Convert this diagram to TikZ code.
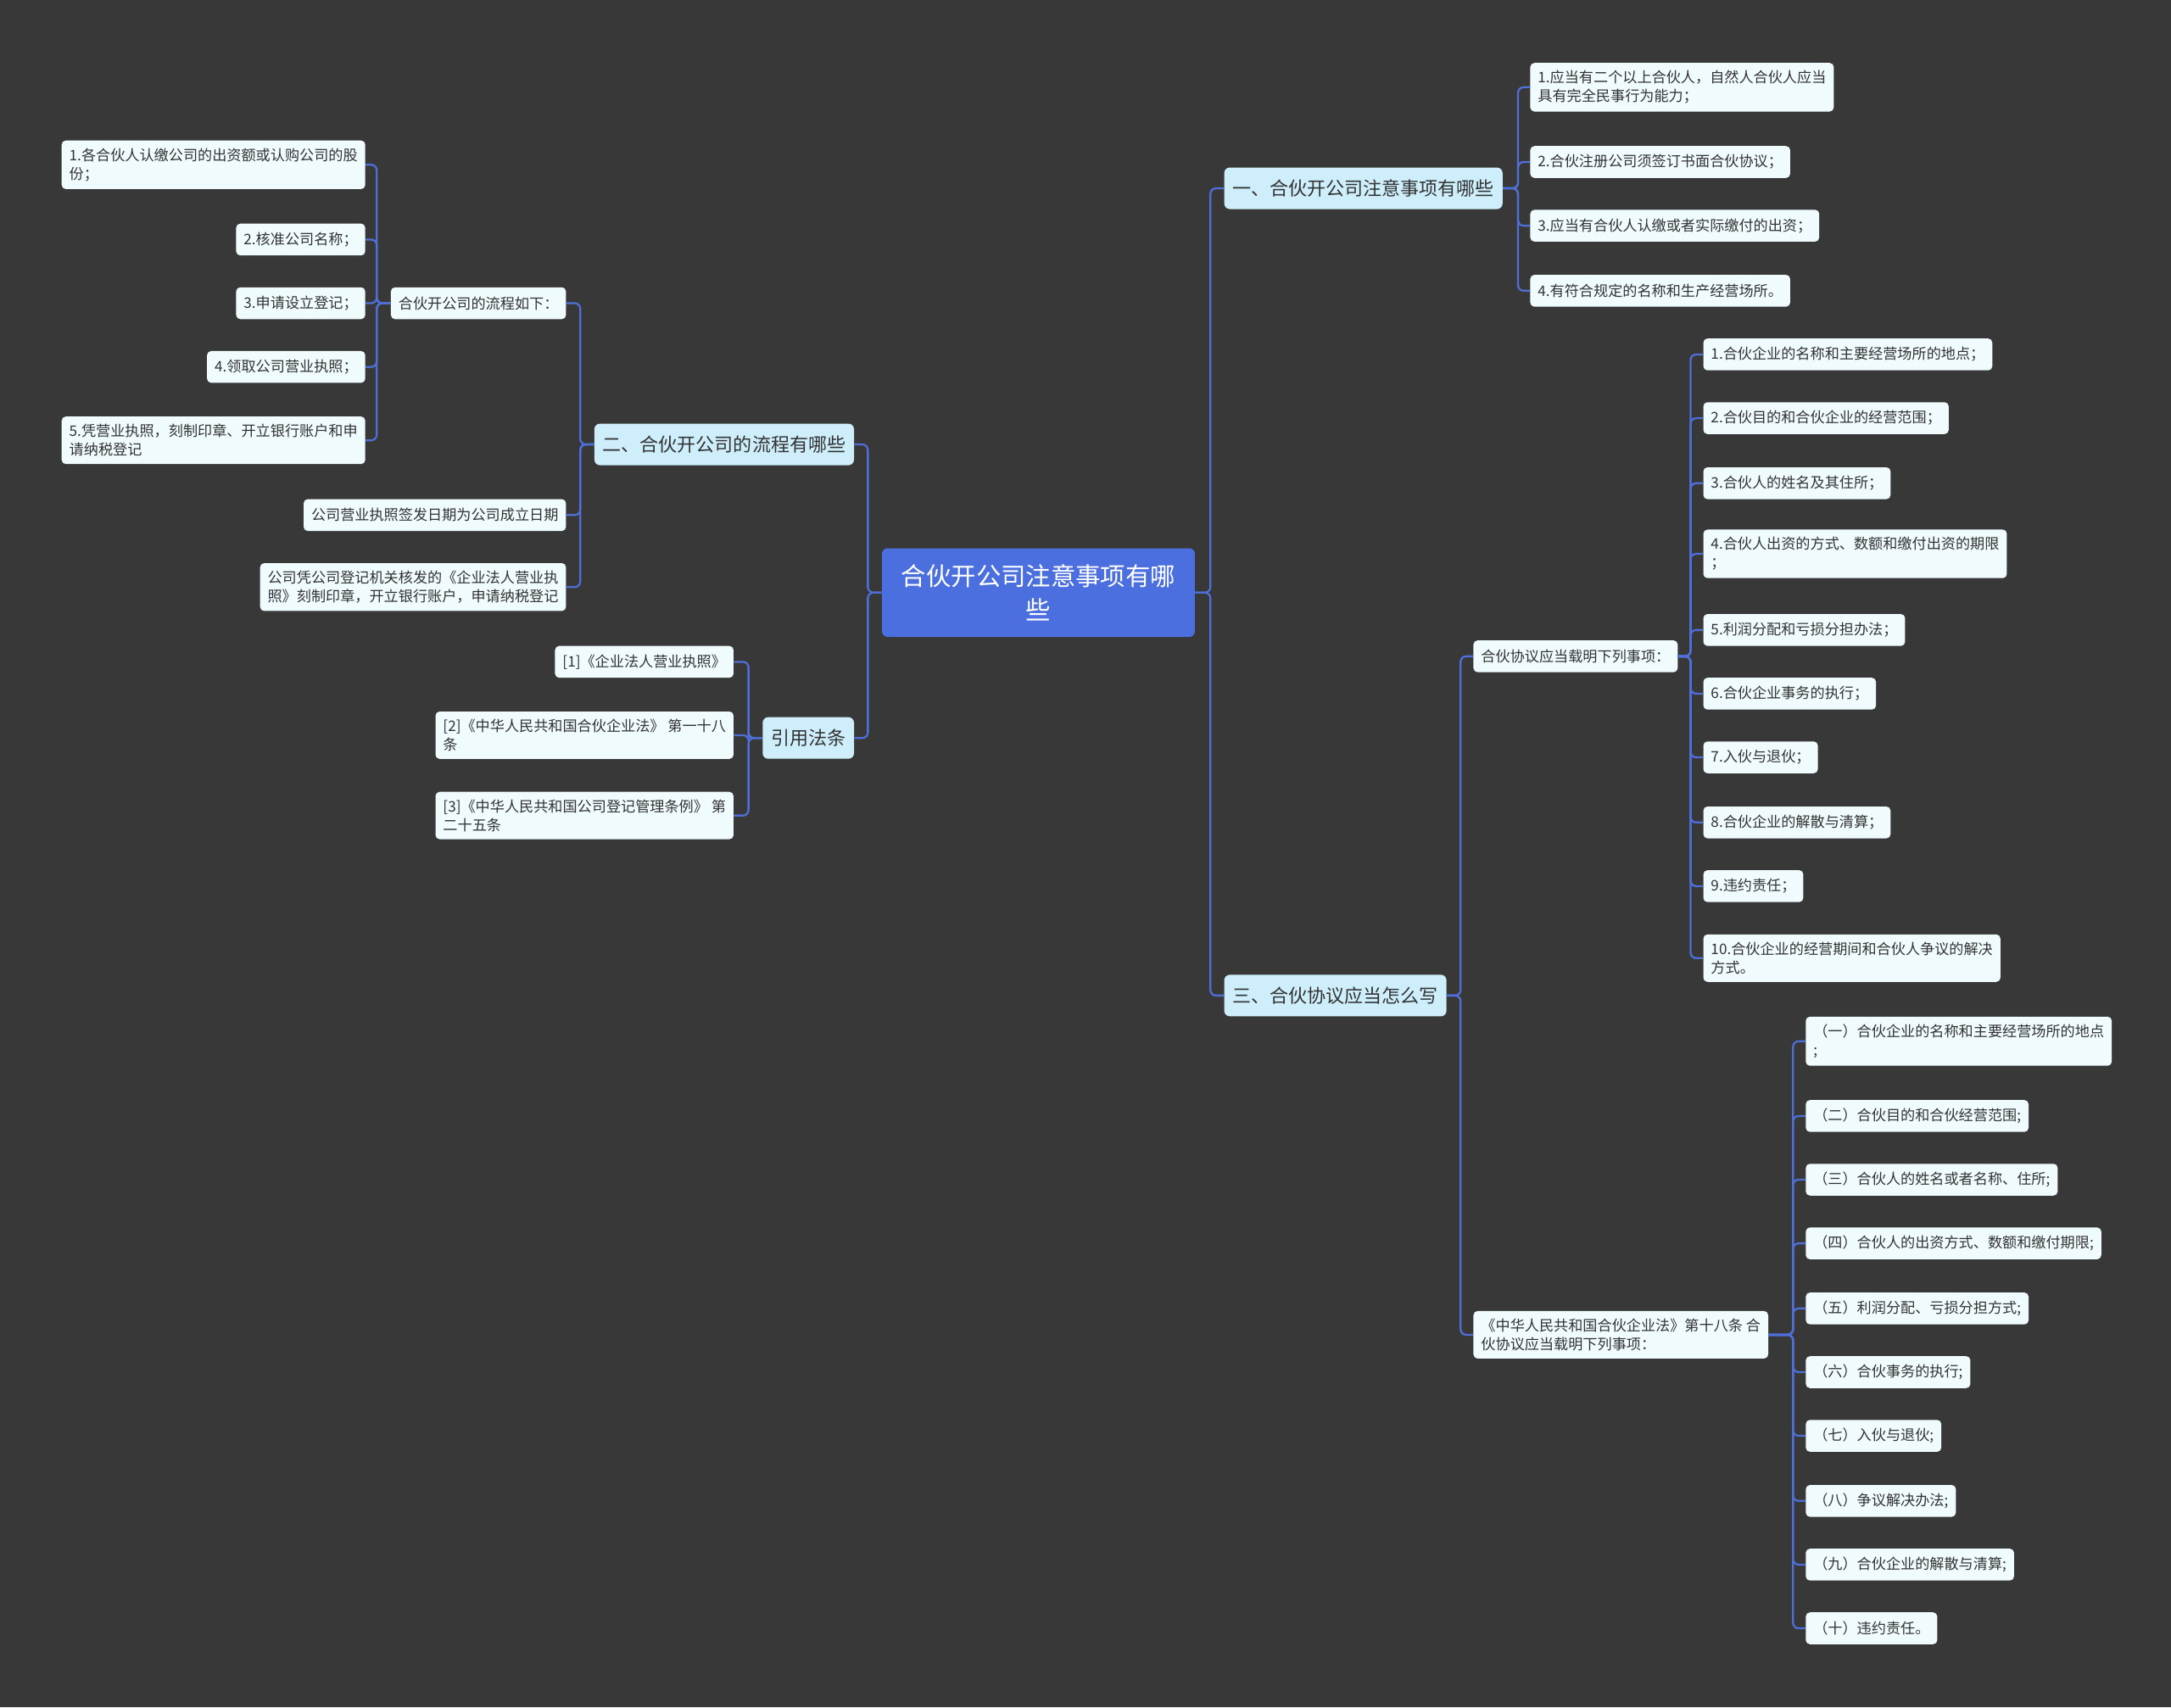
\documentclass[tikz,border=0pt]{standalone}
\usepackage{fontspec}
\setmainfont{Noto Sans CJK SC}
\usetikzlibrary{positioning}

\definecolor{bgdark}{HTML}{383838}
\definecolor{rootblue}{HTML}{4B6FDE}
\definecolor{linkblue}{HTML}{4F6FD8}
\definecolor{topicblue}{HTML}{CDEEFA}
\definecolor{leafwhite}{HTML}{F0FBFD}
\definecolor{textdark}{HTML}{333333}

\tikzset{
  rootbox/.style={fill=rootblue, text=white, rounded corners=4pt, align=center,
    font=\fontsize{18}{24}\selectfont, inner xsep=14pt, minimum height=64pt},
  topicbox/.style={fill=topicblue, text=textdark, rounded corners=4pt,
    font=\fontsize{13.5}{16}\selectfont, inner xsep=6pt, minimum height=30pt},
  leafbox/.style={fill=leafwhite, text=textdark, rounded corners=3pt, align=left,
    font=\fontsize{10.5}{13.5}\selectfont, inner xsep=5.5pt, inner ysep=5.5pt, minimum height=23pt},
  link/.style={draw=linkblue, line width=1.4pt, rounded corners=4pt},
}

\begin{document}
\begin{tikzpicture}[x=1pt, y=-1pt]
  % background and size
  \fill[bgdark] (0,0) rectangle (1568,1233);
  \useasboundingbox (0,0) rectangle (1568,1233);

  % central topic
  \node[rootbox] (root) at (750,428) {合伙开公司注意事项有哪\\些};

  % main branches
  \node[topicbox, anchor=west] (t1) at (884,136) {一、合伙开公司注意事项有哪些};
  \node[topicbox, anchor=east] (t2) at (617,321) {二、合伙开公司的流程有哪些};
  \node[topicbox, anchor=west] (t3) at (884,719) {三、合伙协议应当怎么写};
  \node[topicbox, anchor=east] (t4) at (617,533) {引用法条};

  % branch one
  \node[leafbox, anchor=west] (a1) at (1105,63) {1.应当有二个以上合伙人，自然人合伙人应当\\具有完全民事行为能力；};
  \node[leafbox, anchor=west] (a2) at (1105,117) {2.合伙注册公司须签订书面合伙协议；};
  \node[leafbox, anchor=west] (a3) at (1105,163) {3.应当有合伙人认缴或者实际缴付的出资；};
  \node[leafbox, anchor=west] (a4) at (1105,210) {4.有符合规定的名称和生产经营场所。};

  % branch two
  \node[leafbox, anchor=east] (p) at (409,219) {合伙开公司的流程如下：};
  \node[leafbox, anchor=east] (p1) at (264,119) {1.各合伙人认缴公司的出资额或认购公司的股\\份；};
  \node[leafbox, anchor=east] (p2) at (264,173) {2.核准公司名称；};
  \node[leafbox, anchor=east] (p3) at (264,219) {3.申请设立登记；};
  \node[leafbox, anchor=east] (p4) at (264,265) {4.领取公司营业执照；};
  \node[leafbox, anchor=east] (p5) at (264,318) {5.凭营业执照，刻制印章、开立银行账户和申\\请纳税登记};
  \node[leafbox, anchor=east] (b1) at (409,372) {公司营业执照签发日期为公司成立日期};
  \node[leafbox, anchor=east] (b2) at (409,424) {公司凭公司登记机关核发的《企业法人营业执\\照》刻制印章，开立银行账户，申请纳税登记};

  % branch three
  \node[leafbox, anchor=west] (s1) at (1064,474) {合伙协议应当载明下列事项：};
  \node[leafbox, anchor=west] (s2) at (1064,964) {《中华人民共和国合伙企业法》第十八条 合\\伙协议应当载明下列事项：};
  \node[leafbox, anchor=west] (s1x1) at (1230,256) {1.合伙企业的名称和主要经营场所的地点；};
  \node[leafbox, anchor=west] (s1x2) at (1230,302) {2.合伙目的和合伙企业的经营范围；};
  \node[leafbox, anchor=west] (s1x3) at (1230,349) {3.合伙人的姓名及其住所；};
  \node[leafbox, anchor=west] (s1x4) at (1230,400) {4.合伙人出资的方式、数额和缴付出资的期限\\；};
  \node[leafbox, anchor=west] (s1x5) at (1230,455) {5.利润分配和亏损分担办法；};
  \node[leafbox, anchor=west] (s1x6) at (1230,501) {6.合伙企业事务的执行；};
  \node[leafbox, anchor=west] (s1x7) at (1230,547) {7.入伙与退伙；};
  \node[leafbox, anchor=west] (s1x8) at (1230,594) {8.合伙企业的解散与清算；};
  \node[leafbox, anchor=west] (s1x9) at (1230,640) {9.违约责任；};
  \node[leafbox, anchor=west] (s1x10) at (1230,692) {10.合伙企业的经营期间和合伙人争议的解决\\方式。};
  \node[leafbox, anchor=west] (s2x1) at (1304,752) {（一）合伙企业的名称和主要经营场所的地点\\;};
  \node[leafbox, anchor=west] (s2x2) at (1304,806) {（二）合伙目的和合伙经营范围;};
  \node[leafbox, anchor=west] (s2x3) at (1304,852) {（三）合伙人的姓名或者名称、住所;};
  \node[leafbox, anchor=west] (s2x4) at (1304,898) {（四）合伙人的出资方式、数额和缴付期限;};
  \node[leafbox, anchor=west] (s2x5) at (1304,945) {（五）利润分配、亏损分担方式;};
  \node[leafbox, anchor=west] (s2x6) at (1304,991) {（六）合伙事务的执行;};
  \node[leafbox, anchor=west] (s2x7) at (1304,1037) {（七）入伙与退伙;};
  \node[leafbox, anchor=west] (s2x8) at (1304,1084) {（八）争议解决办法;};
  \node[leafbox, anchor=west] (s2x9) at (1304,1130) {（九）合伙企业的解散与清算;};
  \node[leafbox, anchor=west] (s2x10) at (1304,1176) {（十）违约责任。};

  % references
  \node[leafbox, anchor=east] (r1) at (530,478) {[1]《企业法人营业执照》};
  \node[leafbox, anchor=east] (r2) at (530,531) {[2]《中华人民共和国合伙企业法》 第一十八\\条};
  \node[leafbox, anchor=east] (r3) at (530,589) {[3]《中华人民共和国公司登记管理条例》 第\\二十五条};

  % connectors from the centre
  \draw[link] (root.east) -- ++(11,0) |- (t1.west);
  \draw[link] (root.east) -- ++(11,0) |- (t3.west);
  \draw[link] (root.west) -- ++(-10,0) |- (t2.east);
  \draw[link] (root.west) -- ++(-10,0) |- (t4.east);

  % connectors of branch one
  \draw[link] (t1.east) -- ++(11,0) |- (a1.west);
  \draw[link] (t1.east) -- ++(11,0) |- (a2.west);
  \draw[link] (t1.east) -- ++(11,0) |- (a3.west);
  \draw[link] (t1.east) -- ++(11,0) |- (a4.west);

  % connectors of branch two
  \draw[link] (t2.west) -- ++(-10,0) |- (p.east);
  \draw[link] (t2.west) -- ++(-10,0) |- (b1.east);
  \draw[link] (t2.west) -- ++(-10,0) |- (b2.east);
  \draw[link] (p.west) -- ++(-10,0) |- (p1.east);
  \draw[link] (p.west) -- ++(-10,0) |- (p2.east);
  \draw[link] (p.west) -- ++(-10,0) |- (p3.east);
  \draw[link] (p.west) -- ++(-10,0) |- (p4.east);
  \draw[link] (p.west) -- ++(-10,0) |- (p5.east);

  % connectors of branch three (bracket kept 9pt left of the children)
  \draw[link] (t3.east) -- ++(10,0) |- (s1.west);
  \draw[link] (t3.east) -- ++(10,0) |- (s2.west);
  \draw[link] (s1.east) -- ([xshift=-9pt]s1x1.west |- s1.east) |- (s1x1.west);
  \draw[link] (s1.east) -- ([xshift=-9pt]s1x2.west |- s1.east) |- (s1x2.west);
  \draw[link] (s1.east) -- ([xshift=-9pt]s1x3.west |- s1.east) |- (s1x3.west);
  \draw[link] (s1.east) -- ([xshift=-9pt]s1x4.west |- s1.east) |- (s1x4.west);
  \draw[link] (s1.east) -- ([xshift=-9pt]s1x5.west |- s1.east) |- (s1x5.west);
  \draw[link] (s1.east) -- ([xshift=-9pt]s1x6.west |- s1.east) |- (s1x6.west);
  \draw[link] (s1.east) -- ([xshift=-9pt]s1x7.west |- s1.east) |- (s1x7.west);
  \draw[link] (s1.east) -- ([xshift=-9pt]s1x8.west |- s1.east) |- (s1x8.west);
  \draw[link] (s1.east) -- ([xshift=-9pt]s1x9.west |- s1.east) |- (s1x9.west);
  \draw[link] (s1.east) -- ([xshift=-9pt]s1x10.west |- s1.east) |- (s1x10.west);
  \draw[link] (s2.east) -- ([xshift=-9pt]s2x1.west |- s2.east) |- (s2x1.west);
  \draw[link] (s2.east) -- ([xshift=-9pt]s2x2.west |- s2.east) |- (s2x2.west);
  \draw[link] (s2.east) -- ([xshift=-9pt]s2x3.west |- s2.east) |- (s2x3.west);
  \draw[link] (s2.east) -- ([xshift=-9pt]s2x4.west |- s2.east) |- (s2x4.west);
  \draw[link] (s2.east) -- ([xshift=-9pt]s2x5.west |- s2.east) |- (s2x5.west);
  \draw[link] (s2.east) -- ([xshift=-9pt]s2x6.west |- s2.east) |- (s2x6.west);
  \draw[link] (s2.east) -- ([xshift=-9pt]s2x7.west |- s2.east) |- (s2x7.west);
  \draw[link] (s2.east) -- ([xshift=-9pt]s2x8.west |- s2.east) |- (s2x8.west);
  \draw[link] (s2.east) -- ([xshift=-9pt]s2x9.west |- s2.east) |- (s2x9.west);
  \draw[link] (s2.east) -- ([xshift=-9pt]s2x10.west |- s2.east) |- (s2x10.west);

  % connectors of the references
  \draw[link] (t4.west) -- ++(-10,0) |- (r1.east);
  \draw[link] (t4.west) -- ++(-10,0) |- (r2.east);
  \draw[link] (t4.west) -- ++(-10,0) |- (r3.east);
\end{tikzpicture}
\end{document}
